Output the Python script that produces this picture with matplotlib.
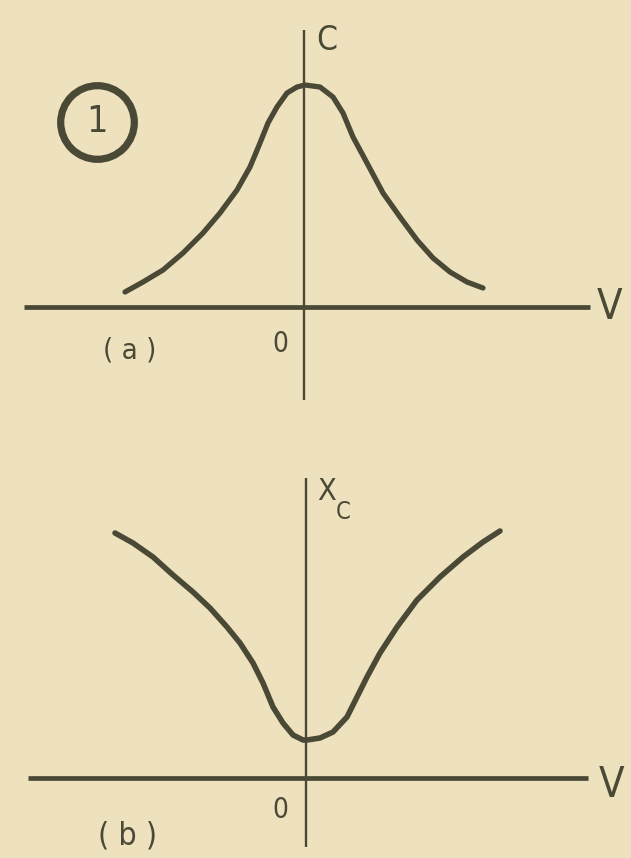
import matplotlib
matplotlib.use("Agg")
import matplotlib.pyplot as plt

PAPER = "#eee1be"
INK = "#4a4936"
FONT = dict(family="DejaVu Sans", stretch="condensed")

# (a) capacitance C versus voltage V
v_a = [-1.79, -1.61, -1.41, -1.21, -1.01, -0.84, -0.67, -0.54, -0.44, -0.36,
       -0.27, -0.17, -0.07, 0.01, 0.16, 0.29, 0.39, 0.49, 0.63, 0.79,
       0.96, 1.13, 1.29, 1.46, 1.63, 1.79]
c_a = [0.15, 0.25, 0.37, 0.54, 0.74, 0.94, 1.17, 1.40, 1.64, 1.84,
       2.00, 2.14, 2.20, 2.22, 2.20, 2.10, 1.94, 1.70, 1.44, 1.14,
       0.90, 0.67, 0.49, 0.35, 0.25, 0.19]

# (b) capacitive reactance Xc versus voltage V
v_b = [-1.91, -1.73, -1.53, -1.33, -1.13, -0.96, -0.79, -0.66, -0.53, -0.43,
       -0.33, -0.23, -0.13, -0.03, 0.01, 0.14, 0.27, 0.41, 0.51, 0.61,
       0.74, 0.91, 1.11, 1.34, 1.57, 1.77, 1.94]
x_b = [2.45, 2.35, 2.21, 2.03, 1.86, 1.70, 1.51, 1.35, 1.15, 0.95,
       0.71, 0.55, 0.43, 0.38, 0.38, 0.40, 0.46, 0.61, 0.81, 1.01,
       1.25, 1.51, 1.78, 2.01, 2.21, 2.36, 2.47]

W, H = 631, 858
fig = plt.figure(figsize=(W / 100, H / 100), dpi=100)
fig.patch.set_facecolor(PAPER)


def panel(top, bottom, ox, oy):
    # axes spanning a horizontal strip of the page, 1 unit = 100 px,
    # origin placed where the two axes cross
    ax = fig.add_axes([0, 1 - bottom / H, 1, (bottom - top) / H])
    ax.set_xlim(-ox / 100, (W - ox) / 100)
    ax.set_ylim(-(bottom - oy) / 100, (oy - top) / 100)
    ax.set_facecolor(PAPER)
    ax.axis("off")
    return ax


def label(ax, x, y, s, size, **kw):
    ax.text(x, y, s, color=INK, fontsize=size, va="center", **FONT, **kw)


# ---- panel (a) ----
ax1 = panel(0, 430, 304, 307)
ax1.plot([-2.80, 2.86], [0, 0], color=INK, lw=3.4, solid_capstyle="butt")
ax1.plot([0, 0], [-0.93, 2.77], color=INK, lw=1.7, solid_capstyle="butt")
ax1.plot(v_a, c_a, color=INK, lw=3.8, solid_capstyle="round", solid_joinstyle="round")
label(ax1, 0.12, 2.67, "C", 24, ha="left")
label(ax1, 3.06, 0.0, "V", 30, ha="center")
label(ax1, -0.24, -0.37, "0", 20, ha="center")
label(ax1, -1.74, -0.44, "( a )", 21, ha="center")
ax1.plot(-2.07, 1.85, marker="o", ms=53, mfc="none", mec=INK, mew=5.2)
label(ax1, -2.07, 1.85, "1", 27, ha="center")

# ---- panel (b) ----
ax2 = panel(430, 858, 306, 778)
ax2.plot([-2.78, 2.82], [0, 0], color=INK, lw=3.4, solid_capstyle="butt")
ax2.plot([0, 0], [-0.69, 3.00], color=INK, lw=1.7, solid_capstyle="butt")
ax2.plot(v_b, x_b, color=INK, lw=4.0, solid_capstyle="round", solid_joinstyle="round")
label(ax2, 0.11, 2.86, "X", 22, ha="left")
label(ax2, 0.30, 2.66, "C", 17, ha="left")
label(ax2, 3.06, -0.07, "V", 30, ha="center")
label(ax2, -0.26, -0.32, "0", 20, ha="center")
label(ax2, -1.78, -0.58, "( b )", 23, ha="center")

fig.savefig("out.png", dpi=100, facecolor=PAPER)
